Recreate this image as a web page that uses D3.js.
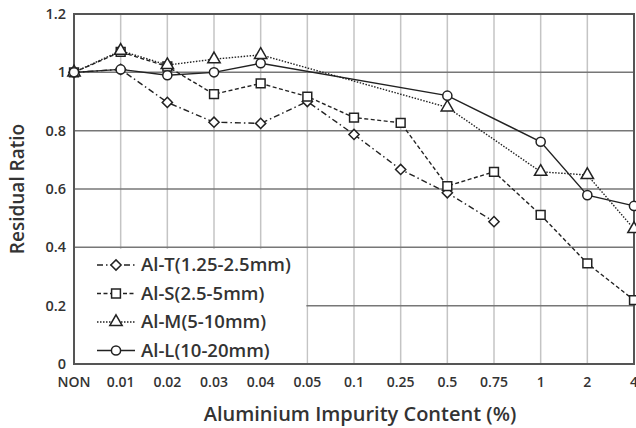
<!DOCTYPE html>
<html>
<head>
<meta charset="utf-8">
<script src="https://cdn.jsdelivr.net/npm/d3@7"></script>
<style>
  body { margin: 0; background: #fff; }
  svg text { font-family: "Open Sans", sans-serif; fill: #333; }
</style>
</head>
<body>
<svg id="chart" width="636" height="428"></svg>
<script>
const categories = ["NON", "0.01", "0.02", "0.03", "0.04", "0.05", "0.1", "0.25", "0.5", "0.75", "1", "2", "4"];
// null = no measurement at that content
const alT = [1.0, 1.01, 0.897, 0.829, 0.825, 0.9, 0.787, 0.667, 0.587, 0.488, null, null, null];
const alS = [1.0, 1.07, 1.02, 0.925, 0.962, 0.917, 0.845, 0.827, 0.61, 0.659, 0.511, 0.345, 0.219];
const alM = [1.0, 1.074, 1.025, 1.045, 1.06, null, null, null, 0.88, null, 0.659, 0.648, 0.463];
const alL = [1.0, 1.01, 0.99, 1.0, 1.031, null, null, null, 0.92, null, 0.762, 0.579, 0.542];
const yTicks = [0, 0.2, 0.4, 0.6, 0.8, 1.0, 1.2];

// rotated square, wider than d3's diamond
const diamond = {
  draw(ctx, size) {
    const r = Math.sqrt(size / 2);
    ctx.moveTo(0, -r);
    ctx.lineTo(r, 0);
    ctx.lineTo(0, r);
    ctx.lineTo(-r, 0);
    ctx.closePath();
  },
};

const series = [
  { name: "Al-T(1.25-2.5mm)", values: alT, dash: "6,3,1.5,3", symbol: diamond, size: 52 },
  { name: "Al-S(2.5-5mm)", values: alS, dash: "4,2.5", symbol: d3.symbolSquare, size: 78 },
  { name: "Al-M(5-10mm)", values: alM, dash: "1.5,1.5", symbol: d3.symbolTriangle, size: 66 },
  { name: "Al-L(10-20mm)", values: alL, dash: null, symbol: d3.symbolCircle, size: 66 },
];

const svg = d3.select("#chart");
const plotL = 74, plotR = 634, plotT = 14, plotB = 364;

const x = d3.scalePoint().domain(categories).range([plotL, plotR]);
const y = d3.scaleLinear().domain([0, 1.2]).range([plotB, plotT]);

// vertical grid
svg.append("g")
  .selectAll("line")
  .data(categories.slice(1))
  .enter()
  .append("line")
  .attr("x1", (d) => x(d)).attr("x2", (d) => x(d))
  .attr("y1", plotT).attr("y2", plotB)
  .attr("stroke", "#c4c4c4").attr("stroke-width", 1.5);

// horizontal grid
svg.append("g")
  .selectAll("line")
  .data(yTicks.slice(1, -1))
  .enter()
  .append("line")
  .attr("x1", plotL).attr("x2", plotR)
  .attr("y1", (d) => y(d)).attr("y2", (d) => y(d))
  .attr("stroke", "#777").attr("stroke-width", 1.5);

// frame
svg.append("rect")
  .attr("x", plotL).attr("y", plotT)
  .attr("width", plotR - plotL).attr("height", plotB - plotT)
  .attr("fill", "none").attr("stroke", "#555").attr("stroke-width", 2);

const line = d3.line()
  .x((d) => x(d.cat))
  .y((d) => y(d.v));

series.forEach((s) => {
  const pts = categories
    .map((c, i) => ({ cat: c, v: s.values[i] }))
    .filter((d) => d.v !== null);
  svg.append("path")
    .datum(pts)
    .attr("d", line)
    .attr("fill", "none")
    .attr("stroke", "#222")
    .attr("stroke-width", 1.4)
    .attr("stroke-dasharray", s.dash);
  svg.append("g")
    .selectAll("path")
    .data(pts)
    .enter()
    .append("path")
    .attr("d", d3.symbol().type(s.symbol).size(s.size))
    .attr("transform", (d) => `translate(${x(d.cat)},${y(d.v)})`)
    .attr("fill", "#fff")
    .attr("stroke", "#222")
    .attr("stroke-width", 1.5);
});

// legend
const legend = svg.append("g");
legend.append("rect")
  .attr("x", plotL + 1).attr("y", y(0.4) + 1.5)
  .attr("width", x("0.05") - plotL - 2).attr("height", plotB - y(0.4) - 2.5)
  .attr("fill", "#fff");
const item = legend.selectAll("g.item")
  .data(series)
  .enter()
  .append("g")
  .attr("class", "item")
  .attr("transform", (d, i) => `translate(0, ${265 + i * 28.5})`);
item.append("line")
  .attr("x1", 97).attr("x2", 135)
  .attr("stroke", "#222").attr("stroke-width", 1.4)
  .attr("stroke-dasharray", (d) => d.dash);
item.append("path")
  .attr("d", (d) => d3.symbol().type(d.symbol).size(d.size)())
  .attr("transform", "translate(116,0)")
  .attr("fill", "#fff").attr("stroke", "#222").attr("stroke-width", 1.5);
item.append("text")
  .attr("x", 141).attr("dy", "0.35em")
  .style("font-size", "18.5px").style("font-weight", 600)
  .text((d) => d.name);

// y tick labels
svg.append("g")
  .selectAll("text")
  .data(yTicks)
  .enter()
  .append("text")
  .attr("x", 66).attr("y", (d) => y(d)).attr("dy", "0.35em")
  .attr("text-anchor", "end")
  .style("font-size", "14.5px").style("font-weight", 600)
  .text((d) => d3.format("~g")(d));

// x tick labels
svg.append("g")
  .selectAll("text")
  .data(categories)
  .enter()
  .append("text")
  .attr("x", (d) => x(d)).attr("y", 387)
  .attr("text-anchor", "middle")
  .style("font-size", "14px").style("font-weight", 600)
  .text((d) => d);

svg.append("text")
  .attr("x", 360).attr("y", 421)
  .attr("text-anchor", "middle")
  .style("font-size", "20px").style("font-weight", 600)
  .text("Aluminium Impurity Content (%)");

svg.append("text")
  .attr("transform", "translate(24,189) rotate(-90)")
  .attr("text-anchor", "middle")
  .style("font-size", "19px").style("font-weight", 600)
  .text("Residual Ratio");
</script>
</body>
</html>
